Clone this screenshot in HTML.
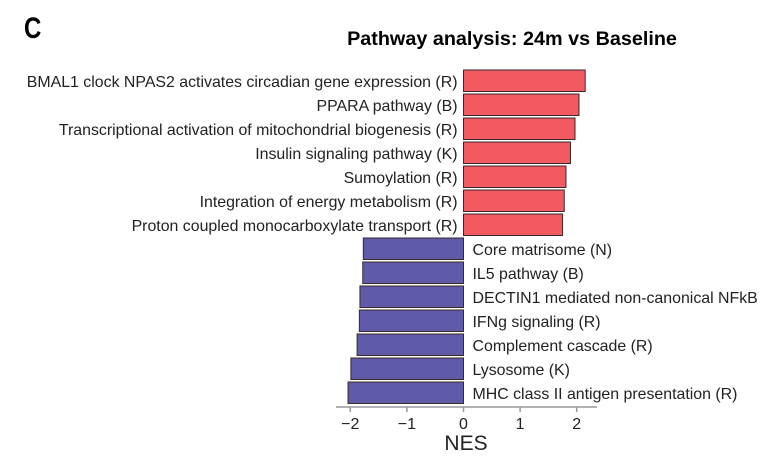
<!DOCTYPE html>
<html><head><meta charset="utf-8"><style>
body{margin:0;background:#fff;}
svg{display:block;font-family:"Liberation Sans",Arial,sans-serif;}
</style></head><body>
<svg id="chart" width="763" height="459">
<text x="24" y="38" font-size="30" font-weight="bold" transform="scale(0.8,1)" style="transform-origin:24px 38px">C</text>
<text x="512" y="45" font-size="19.8" font-weight="bold" text-anchor="middle">Pathway analysis: 24m vs Baseline</text>
<g id="bars"></g>
<g id="axis"></g>
</svg>
<script>
const categories=["BMAL1 clock NPAS2 activates circadian gene expression (R)","PPARA pathway (B)","Transcriptional activation of mitochondrial biogenesis (R)","Insulin signaling pathway (K)","Sumoylation (R)","Integration of energy metabolism (R)","Proton coupled monocarboxylate transport (R)","Core matrisome (N)","IL5 pathway (B)","DECTIN1 mediated non-canonical NFkB","IFNg signaling (R)","Complement cascade (R)","Lysosome (K)","MHC class II antigen presentation (R)"];
const nesValues=[2.15,2.04,1.97,1.89,1.81,1.78,1.75,-1.77,-1.78,-1.83,-1.84,-1.88,-1.99,-2.04];
const tickValues=[-2,-1,0,1,2];
const tickLabels=["\u22122","\u22121","0","1","2"];
const NS="http://www.w3.org/2000/svg";
const x=v=>463.5+v*56.6;
const y=i=>70+i*24;
const bh=21.5;
const bars=document.getElementById('bars');
function mk(t,a,p){const e=document.createElementNS(NS,t);for(const k in a)e.setAttribute(k,a[k]);p.appendChild(e);return e;}
nesValues.forEach((v,i)=>{
 const r=mk('rect',{x:Math.min(x(0),x(v)),y:y(i),width:Math.abs(x(v)-x(0)),height:bh,fill:v>0?'#f25a61':'#5f5ba8',stroke:'#3a2a2a','stroke-width':1},bars);
 
 
 const t=mk('text',{x:v>0?x(0)-6:x(0)+9,y:y(i)+bh/2+6,'font-size':15.9,fill:'#222','text-anchor':v>0?'end':'start'},bars);
 t.textContent=categories[i];
 
 
});
const ax=document.getElementById('axis');
const al=mk('line',{x1:336,x2:597,y1:407,y2:407,stroke:'#999','stroke-width':1.5},ax);


tickValues.forEach((v,i)=>{
 const tk=mk('line',{x1:x(v),x2:x(v),y1:407,y2:412,stroke:'#999','stroke-width':1.5},ax);
 
 
 const t=mk('text',{x:x(v),y:429,'font-size':16,'text-anchor':'middle',fill:'#222'},ax);
 t.textContent=tickLabels[i];
 
 
});
const xt=mk('text',{x:466,y:450,'font-size':21,'text-anchor':'middle',fill:'#222'},ax);
xt.textContent='NES';


</script>
</body></html>
